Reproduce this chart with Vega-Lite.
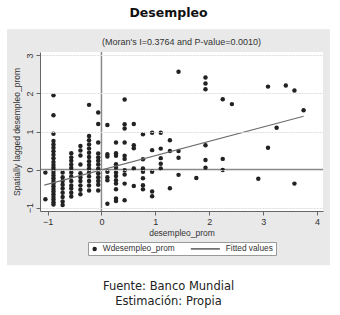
{
  "$schema": "https://vega.github.io/schema/vega-lite/v6.json",
  "padding": {"left": 7, "top": 6, "right": 0, "bottom": 0},
  "background": "white",
  "datasets": {
    "points": [
      {"x": -1.04, "y": -0.08, "series": "Wdesempleo_prom"},
      {"x": -1.04, "y": -0.78, "series": "Wdesempleo_prom"},
      {"x": -0.89, "y": 1.95, "series": "Wdesempleo_prom"},
      {"x": -0.89, "y": 1.43, "series": "Wdesempleo_prom"},
      {"x": -0.89, "y": 0.94, "series": "Wdesempleo_prom"},
      {"x": -0.89, "y": 0.75, "series": "Wdesempleo_prom"},
      {"x": -0.89, "y": 0.66, "series": "Wdesempleo_prom"},
      {"x": -0.89, "y": 0.57, "series": "Wdesempleo_prom"},
      {"x": -0.89, "y": 0.48, "series": "Wdesempleo_prom"},
      {"x": -0.89, "y": 0.39, "series": "Wdesempleo_prom"},
      {"x": -0.89, "y": 0.30, "series": "Wdesempleo_prom"},
      {"x": -0.89, "y": 0.20, "series": "Wdesempleo_prom"},
      {"x": -0.89, "y": 0.12, "series": "Wdesempleo_prom"},
      {"x": -0.89, "y": 0.05, "series": "Wdesempleo_prom"},
      {"x": -0.89, "y": -0.02, "series": "Wdesempleo_prom"},
      {"x": -0.89, "y": -0.09, "series": "Wdesempleo_prom"},
      {"x": -0.89, "y": -0.16, "series": "Wdesempleo_prom"},
      {"x": -0.89, "y": -0.23, "series": "Wdesempleo_prom"},
      {"x": -0.89, "y": -0.30, "series": "Wdesempleo_prom"},
      {"x": -0.89, "y": -0.37, "series": "Wdesempleo_prom"},
      {"x": -0.89, "y": -0.44, "series": "Wdesempleo_prom"},
      {"x": -0.89, "y": -0.51, "series": "Wdesempleo_prom"},
      {"x": -0.89, "y": -0.58, "series": "Wdesempleo_prom"},
      {"x": -0.89, "y": -0.65, "series": "Wdesempleo_prom"},
      {"x": -0.89, "y": -0.72, "series": "Wdesempleo_prom"},
      {"x": -0.89, "y": -0.79, "series": "Wdesempleo_prom"},
      {"x": -0.89, "y": -0.86, "series": "Wdesempleo_prom"},
      {"x": -0.89, "y": -0.92, "series": "Wdesempleo_prom"},
      {"x": -0.72, "y": -0.08, "series": "Wdesempleo_prom"},
      {"x": -0.72, "y": -0.20, "series": "Wdesempleo_prom"},
      {"x": -0.72, "y": -0.30, "series": "Wdesempleo_prom"},
      {"x": -0.72, "y": -0.40, "series": "Wdesempleo_prom"},
      {"x": -0.72, "y": -0.50, "series": "Wdesempleo_prom"},
      {"x": -0.72, "y": -0.61, "series": "Wdesempleo_prom"},
      {"x": -0.72, "y": -0.72, "series": "Wdesempleo_prom"},
      {"x": -0.72, "y": -0.84, "series": "Wdesempleo_prom"},
      {"x": -0.72, "y": -0.93, "series": "Wdesempleo_prom"},
      {"x": -0.56, "y": 0.43, "series": "Wdesempleo_prom"},
      {"x": -0.56, "y": 0.32, "series": "Wdesempleo_prom"},
      {"x": -0.56, "y": 0.23, "series": "Wdesempleo_prom"},
      {"x": -0.56, "y": 0.13, "series": "Wdesempleo_prom"},
      {"x": -0.56, "y": 0.04, "series": "Wdesempleo_prom"},
      {"x": -0.56, "y": -0.08, "series": "Wdesempleo_prom"},
      {"x": -0.56, "y": -0.18, "series": "Wdesempleo_prom"},
      {"x": -0.56, "y": -0.30, "series": "Wdesempleo_prom"},
      {"x": -0.56, "y": -0.42, "series": "Wdesempleo_prom"},
      {"x": -0.56, "y": -0.50, "series": "Wdesempleo_prom"},
      {"x": -0.56, "y": -0.61, "series": "Wdesempleo_prom"},
      {"x": -0.56, "y": -0.71, "series": "Wdesempleo_prom"},
      {"x": -0.39, "y": 0.62, "series": "Wdesempleo_prom"},
      {"x": -0.39, "y": 0.50, "series": "Wdesempleo_prom"},
      {"x": -0.39, "y": 0.37, "series": "Wdesempleo_prom"},
      {"x": -0.39, "y": 0.13, "series": "Wdesempleo_prom"},
      {"x": -0.39, "y": -0.10, "series": "Wdesempleo_prom"},
      {"x": -0.39, "y": -0.20, "series": "Wdesempleo_prom"},
      {"x": -0.39, "y": -0.30, "series": "Wdesempleo_prom"},
      {"x": -0.39, "y": -0.42, "series": "Wdesempleo_prom"},
      {"x": -0.39, "y": -0.53, "series": "Wdesempleo_prom"},
      {"x": -0.39, "y": -0.65, "series": "Wdesempleo_prom"},
      {"x": -0.23, "y": 1.70, "series": "Wdesempleo_prom"},
      {"x": -0.23, "y": 0.88, "series": "Wdesempleo_prom"},
      {"x": -0.23, "y": 0.77, "series": "Wdesempleo_prom"},
      {"x": -0.23, "y": 0.66, "series": "Wdesempleo_prom"},
      {"x": -0.23, "y": 0.55, "series": "Wdesempleo_prom"},
      {"x": -0.23, "y": 0.44, "series": "Wdesempleo_prom"},
      {"x": -0.23, "y": 0.33, "series": "Wdesempleo_prom"},
      {"x": -0.23, "y": 0.22, "series": "Wdesempleo_prom"},
      {"x": -0.23, "y": 0.12, "series": "Wdesempleo_prom"},
      {"x": -0.23, "y": 0.02, "series": "Wdesempleo_prom"},
      {"x": -0.23, "y": -0.08, "series": "Wdesempleo_prom"},
      {"x": -0.23, "y": -0.18, "series": "Wdesempleo_prom"},
      {"x": -0.23, "y": -0.30, "series": "Wdesempleo_prom"},
      {"x": -0.23, "y": -0.42, "series": "Wdesempleo_prom"},
      {"x": -0.23, "y": -0.55, "series": "Wdesempleo_prom"},
      {"x": -0.06, "y": 1.50, "series": "Wdesempleo_prom"},
      {"x": -0.06, "y": 1.20, "series": "Wdesempleo_prom"},
      {"x": -0.06, "y": 0.71, "series": "Wdesempleo_prom"},
      {"x": -0.06, "y": 0.42, "series": "Wdesempleo_prom"},
      {"x": -0.06, "y": 0.32, "series": "Wdesempleo_prom"},
      {"x": -0.06, "y": 0.23, "series": "Wdesempleo_prom"},
      {"x": -0.06, "y": 0.13, "series": "Wdesempleo_prom"},
      {"x": -0.06, "y": 0.02, "series": "Wdesempleo_prom"},
      {"x": -0.06, "y": -0.10, "series": "Wdesempleo_prom"},
      {"x": -0.06, "y": -0.20, "series": "Wdesempleo_prom"},
      {"x": -0.06, "y": -0.30, "series": "Wdesempleo_prom"},
      {"x": -0.06, "y": -0.40, "series": "Wdesempleo_prom"},
      {"x": -0.06, "y": -0.55, "series": "Wdesempleo_prom"},
      {"x": 0.11, "y": 1.17, "series": "Wdesempleo_prom"},
      {"x": 0.11, "y": 0.40, "series": "Wdesempleo_prom"},
      {"x": 0.11, "y": 0.34, "series": "Wdesempleo_prom"},
      {"x": 0.11, "y": -0.06, "series": "Wdesempleo_prom"},
      {"x": 0.11, "y": -0.20, "series": "Wdesempleo_prom"},
      {"x": 0.11, "y": -0.28, "series": "Wdesempleo_prom"},
      {"x": 0.11, "y": -0.90, "series": "Wdesempleo_prom"},
      {"x": 0.27, "y": 0.71, "series": "Wdesempleo_prom"},
      {"x": 0.27, "y": 0.43, "series": "Wdesempleo_prom"},
      {"x": 0.27, "y": 0.36, "series": "Wdesempleo_prom"},
      {"x": 0.27, "y": 0.14, "series": "Wdesempleo_prom"},
      {"x": 0.27, "y": 0.05, "series": "Wdesempleo_prom"},
      {"x": 0.27, "y": -0.08, "series": "Wdesempleo_prom"},
      {"x": 0.27, "y": -0.17, "series": "Wdesempleo_prom"},
      {"x": 0.27, "y": -0.28, "series": "Wdesempleo_prom"},
      {"x": 0.27, "y": -0.37, "series": "Wdesempleo_prom"},
      {"x": 0.27, "y": -0.52, "series": "Wdesempleo_prom"},
      {"x": 0.27, "y": -0.76, "series": "Wdesempleo_prom"},
      {"x": 0.27, "y": -0.83, "series": "Wdesempleo_prom"},
      {"x": 0.43, "y": 1.84, "series": "Wdesempleo_prom"},
      {"x": 0.43, "y": 1.19, "series": "Wdesempleo_prom"},
      {"x": 0.43, "y": 1.08, "series": "Wdesempleo_prom"},
      {"x": 0.43, "y": 0.71, "series": "Wdesempleo_prom"},
      {"x": 0.43, "y": 0.36, "series": "Wdesempleo_prom"},
      {"x": 0.43, "y": 0.28, "series": "Wdesempleo_prom"},
      {"x": 0.43, "y": -0.02, "series": "Wdesempleo_prom"},
      {"x": 0.43, "y": -0.13, "series": "Wdesempleo_prom"},
      {"x": 0.43, "y": -0.37, "series": "Wdesempleo_prom"},
      {"x": 0.43, "y": -0.81, "series": "Wdesempleo_prom"},
      {"x": 0.60, "y": 1.20, "series": "Wdesempleo_prom"},
      {"x": 0.60, "y": 0.64, "series": "Wdesempleo_prom"},
      {"x": 0.60, "y": 0.56, "series": "Wdesempleo_prom"},
      {"x": 0.60, "y": 0.03, "series": "Wdesempleo_prom"},
      {"x": 0.60, "y": -0.43, "series": "Wdesempleo_prom"},
      {"x": 0.77, "y": 0.93, "series": "Wdesempleo_prom"},
      {"x": 0.77, "y": 0.27, "series": "Wdesempleo_prom"},
      {"x": 0.77, "y": 0.03, "series": "Wdesempleo_prom"},
      {"x": 0.77, "y": -0.06, "series": "Wdesempleo_prom"},
      {"x": 0.77, "y": -0.23, "series": "Wdesempleo_prom"},
      {"x": 0.77, "y": -0.41, "series": "Wdesempleo_prom"},
      {"x": 0.77, "y": -0.52, "series": "Wdesempleo_prom"},
      {"x": 0.94, "y": 0.97, "series": "Wdesempleo_prom"},
      {"x": 0.94, "y": 0.51, "series": "Wdesempleo_prom"},
      {"x": 0.94, "y": -0.06, "series": "Wdesempleo_prom"},
      {"x": 0.94, "y": -0.58, "series": "Wdesempleo_prom"},
      {"x": 0.94, "y": -0.70, "series": "Wdesempleo_prom"},
      {"x": 1.10, "y": 0.97, "series": "Wdesempleo_prom"},
      {"x": 1.10, "y": 0.55, "series": "Wdesempleo_prom"},
      {"x": 1.10, "y": 0.30, "series": "Wdesempleo_prom"},
      {"x": 1.10, "y": 0.15, "series": "Wdesempleo_prom"},
      {"x": 1.10, "y": 0.03, "series": "Wdesempleo_prom"},
      {"x": 1.27, "y": 0.77, "series": "Wdesempleo_prom"},
      {"x": 1.27, "y": 0.49, "series": "Wdesempleo_prom"},
      {"x": 1.27, "y": -0.49, "series": "Wdesempleo_prom"},
      {"x": 1.43, "y": 2.57, "series": "Wdesempleo_prom"},
      {"x": 1.43, "y": 0.49, "series": "Wdesempleo_prom"},
      {"x": 1.43, "y": 0.31, "series": "Wdesempleo_prom"},
      {"x": 1.43, "y": -0.14, "series": "Wdesempleo_prom"},
      {"x": 1.76, "y": -0.22, "series": "Wdesempleo_prom"},
      {"x": 1.93, "y": 2.42, "series": "Wdesempleo_prom"},
      {"x": 1.93, "y": 2.26, "series": "Wdesempleo_prom"},
      {"x": 1.93, "y": 2.11, "series": "Wdesempleo_prom"},
      {"x": 1.93, "y": 0.64, "series": "Wdesempleo_prom"},
      {"x": 1.93, "y": 0.25, "series": "Wdesempleo_prom"},
      {"x": 1.93, "y": 0.05, "series": "Wdesempleo_prom"},
      {"x": 2.25, "y": 1.85, "series": "Wdesempleo_prom"},
      {"x": 2.25, "y": 0.28, "series": "Wdesempleo_prom"},
      {"x": 2.25, "y": -0.01, "series": "Wdesempleo_prom"},
      {"x": 2.42, "y": 1.72, "series": "Wdesempleo_prom"},
      {"x": 2.91, "y": -0.24, "series": "Wdesempleo_prom"},
      {"x": 3.09, "y": 2.18, "series": "Wdesempleo_prom"},
      {"x": 3.09, "y": 0.57, "series": "Wdesempleo_prom"},
      {"x": 3.25, "y": 1.10, "series": "Wdesempleo_prom"},
      {"x": 3.42, "y": 2.21, "series": "Wdesempleo_prom"},
      {"x": 3.58, "y": 2.08, "series": "Wdesempleo_prom"},
      {"x": 3.58, "y": -0.37, "series": "Wdesempleo_prom"},
      {"x": 3.75, "y": 1.56, "series": "Wdesempleo_prom"}
    ],
    "fit": [
      {"x": -1.06, "y": -0.41},
      {"x": 3.75, "y": 1.40}
    ],
    "one": [{"k": 1}]
  },
  "title": {
    "text": "Desempleo",
    "orient": "top",
    "anchor": "middle",
    "font": "DejaVu Sans",
    "fontSize": 12.5,
    "fontWeight": "bold",
    "color": "#111111",
    "offset": 10
  },
  "resolve": {"scale": {"shape": "independent"}},
  "vconcat": [
    {
      "title": {
        "text": ["Fuente: Banco Mundial", "Estimación: Propia"],
        "orient": "bottom",
        "anchor": "middle",
        "font": "DejaVu Sans",
        "fontSize": 11.5,
        "fontWeight": "normal",
        "color": "#222222",
        "lineHeight": 15,
        "offset": 16
      },
      "resolve": {"scale": {"shape": "independent"}},
      "vconcat": [
        {
          "title": {
            "text": "(Moran's I=0.3764 and P-value=0.0010)",
            "orient": "top",
            "anchor": "middle",
            "frame": "group",
            "font": "Liberation Sans",
            "fontSize": 9,
            "fontWeight": "normal",
            "color": "#333333",
            "offset": -18
          },
          "width": 283,
          "height": 159,
          "layer": [
            {
              "data": {"name": "one"},
              "mark": {"type": "rect", "color": "#e9e9e9", "clip": false},
              "encoding": {
                "x": {"datum": -1.752, "type": "quantitative"},
                "x2": {"datum": 4.24},
                "y": {"datum": 3.687, "type": "quantitative"},
                "y2": {"datum": -2.517}
              }
            },
            {
              "data": {"name": "one"},
              "mark": {"type": "rect", "color": "#ffffff"},
              "encoding": {
                "x": {"datum": -1.14, "type": "quantitative"},
                "x2": {"datum": 4.11},
                "y": {"datum": 3.09, "type": "quantitative"},
                "y2": {"datum": -1.09}
              }
            },
            {
              "data": {"name": "one"},
              "mark": {"type": "rule", "color": "#8a8a8a", "strokeWidth": 1.5},
              "encoding": {"y": {"datum": 0, "type": "quantitative"}}
            },
            {
              "data": {"name": "one"},
              "mark": {"type": "rule", "color": "#8a8a8a", "strokeWidth": 1.5},
              "encoding": {"x": {"datum": 0, "type": "quantitative"}}
            },
            {
              "data": {"name": "points"},
              "mark": {"type": "point", "filled": true, "color": "#222222", "size": 20, "opacity": 1},
              "encoding": {
                "x": {
                  "field": "x",
                  "type": "quantitative",
                  "scale": {"domain": [-1.14, 4.11], "nice": false, "zero": false},
                  "axis": {
                    "values": [-1, 0, 1, 2, 3, 4],
                    "tickCount": 10,
                    "format": "d",
                    "title": "desempleo_prom",
                    "titleFontSize": 8.5,
                    "grid": false,
                    "labelPadding": 2,
                    "titlePadding": 2,
                    "labelFlush": false,
                    "labelOverlap": false,
                    "zindex": 2
                  }
                },
                "y": {
                  "field": "y",
                  "type": "quantitative",
                  "scale": {"domain": [-1.09, 3.09], "nice": false, "zero": false},
                  "axis": {
                    "values": [-1, 0, 1, 2, 3],
                    "tickCount": 10,
                    "format": "d",
                    "title": "Spatially lagged desempleo_prom",
                    "titleFontSize": 8.5,
                    "grid": true,
                    "gridColor": "#dedede",
                    "gridDash": [2, 1],
                    "labelAngle": 270,
                    "labelPadding": 2,
                    "titlePadding": 4,
                    "labelFlush": false,
                    "labelOverlap": false,
                    "zindex": 2
                  }
                },
                "shape": {
                  "field": "series",
                  "type": "nominal",
                  "scale": {"domain": ["Wdesempleo_prom", "Fitted values"], "range": ["circle", "M-12,-0.25L1,-0.25L1,0.25L-12,0.25Z"]},
                  "legend": {
                    "orient": "none",
                    "legendX": 48,
                    "legendY": 190,
                    "direction": "horizontal",
                    "title": null,
                    "strokeColor": "#9a9a9a",
                    "fillColor": "#ffffff",
                    "padding": 2.5,
                    "labelFont": "Liberation Sans",
                    "labelFontSize": 8.3,
                    "labelColor": "#333333",
                    "symbolSize": 20,
                    "symbolFillColor": "#333333",
                    "symbolStrokeColor": "#555555",
                    "symbolStrokeWidth": 0.5,
                    "columnPadding": 14,
                    "labelOffset": 4,
                    "encode": {
                      "symbols": {
                        "fill": {"value": "#333333"},
                        "opacity": {"value": 1}
                      }
                    }
                  }
                }
              }
            },
            {
              "data": {"name": "fit"},
              "mark": {"type": "line", "color": "#6e6e6e", "strokeWidth": 1.2},
              "encoding": {
                "x": {"field": "x", "type": "quantitative"},
                "y": {"field": "y", "type": "quantitative"}
              }
            }
          ]
        }
      ]
    }
  ],
  "config": {
    "view": {"stroke": null},
    "axis": {
      "labelFont": "Liberation Sans",
      "titleFont": "Liberation Sans",
      "labelFontSize": 9,
      "titleFontSize": 9,
      "labelColor": "#333333",
      "titleColor": "#333333",
      "titleFontWeight": "normal",
      "domainColor": "#666666",
      "tickColor": "#666666",
      "tickSize": 4
    }
  }
}
